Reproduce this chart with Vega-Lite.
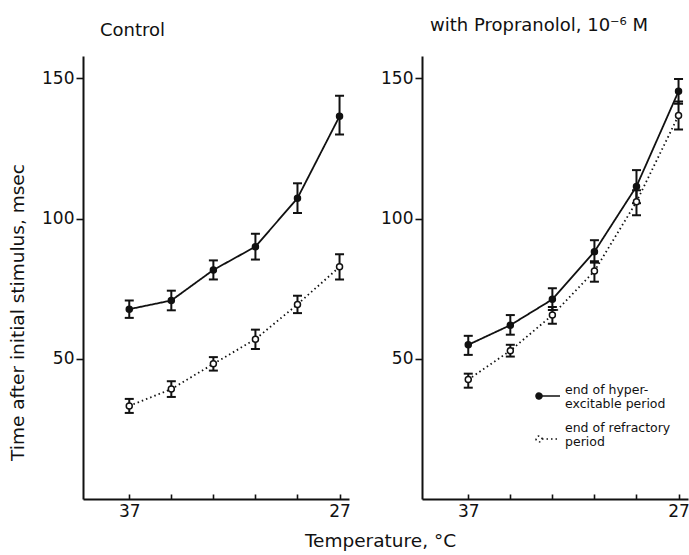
{
  "$schema": "https://vega.github.io/schema/vega-lite/v6.json",
  "background": "white",
  "padding": {"left": 8, "top": 17, "right": 0, "bottom": 5},
  "bounds": "flush",
  "spacing": 73,
  "resolve": {"scale": {"strokeDash": "independent", "fill": "independent"}, "legend": {"strokeDash": "independent", "fill": "independent"}},
  "config": {
    "view": {"stroke": null},
    "font": "DejaVu Sans",
    "axis": {
      "grid": false,
      "domainColor": "#111",
      "domainWidth": 2,
      "tickColor": "#111",
      "tickWidth": 1.6,
      "labelColor": "#111",
      "titleColor": "#111",
      "labelFont": "DejaVu Sans",
      "titleFont": "DejaVu Sans",
      "labelFontSize": 17,
      "titleFontSize": 18.5,
      "titleFontWeight": "normal"
    },
    "tick": {"opacity": 1},
    "title": {"anchor": "start", "frame": "group", "fontSize": 18, "fontWeight": "normal", "font": "DejaVu Sans", "color": "#111", "offset": 16}
  },
  "datasets": {
    "d": [
      {"panel": "Control", "series": "end of hyper-excitable period", "temp": 37, "val": 67.7, "lo": 64.6, "hi": 70.8},
      {"panel": "Control", "series": "end of hyper-excitable period", "temp": 35, "val": 70.8, "lo": 67.3, "hi": 74.3},
      {"panel": "Control", "series": "end of hyper-excitable period", "temp": 33, "val": 81.7, "lo": 78.3, "hi": 85.1},
      {"panel": "Control", "series": "end of hyper-excitable period", "temp": 31, "val": 90.0, "lo": 85.4, "hi": 94.6},
      {"panel": "Control", "series": "end of hyper-excitable period", "temp": 29, "val": 107.3, "lo": 102.0, "hi": 112.6},
      {"panel": "Control", "series": "end of hyper-excitable period", "temp": 27, "val": 136.5, "lo": 130.0, "hi": 143.8},
      {"panel": "Control", "series": "end of refractory period", "temp": 37, "val": 33.2, "lo": 30.7, "hi": 35.7},
      {"panel": "Control", "series": "end of refractory period", "temp": 35, "val": 39.2, "lo": 36.4, "hi": 42.0},
      {"panel": "Control", "series": "end of refractory period", "temp": 33, "val": 48.2, "lo": 45.8, "hi": 50.6},
      {"panel": "Control", "series": "end of refractory period", "temp": 31, "val": 57.0, "lo": 53.5, "hi": 60.4},
      {"panel": "Control", "series": "end of refractory period", "temp": 29, "val": 69.4, "lo": 66.3, "hi": 72.5},
      {"panel": "Control", "series": "end of refractory period", "temp": 27, "val": 82.8, "lo": 78.3, "hi": 87.3},
      {"panel": "Propranolol", "series": "end of hyper-excitable period", "temp": 37, "val": 55.0, "lo": 51.4, "hi": 58.2},
      {"panel": "Propranolol", "series": "end of hyper-excitable period", "temp": 35, "val": 62.0, "lo": 58.6, "hi": 65.6},
      {"panel": "Propranolol", "series": "end of hyper-excitable period", "temp": 33, "val": 71.2, "lo": 67.4, "hi": 75.2},
      {"panel": "Propranolol", "series": "end of hyper-excitable period", "temp": 31, "val": 88.2, "lo": 84.3, "hi": 92.3},
      {"panel": "Propranolol", "series": "end of hyper-excitable period", "temp": 29, "val": 111.5, "lo": 105.5, "hi": 117.3},
      {"panel": "Propranolol", "series": "end of hyper-excitable period", "temp": 27, "val": 145.4, "lo": 141.0, "hi": 149.8},
      {"panel": "Propranolol", "series": "end of refractory period", "temp": 37, "val": 42.6, "lo": 39.7, "hi": 44.7},
      {"panel": "Propranolol", "series": "end of refractory period", "temp": 35, "val": 52.9, "lo": 50.8, "hi": 55.0},
      {"panel": "Propranolol", "series": "end of refractory period", "temp": 33, "val": 65.6, "lo": 62.5, "hi": 68.5},
      {"panel": "Propranolol", "series": "end of refractory period", "temp": 31, "val": 81.3, "lo": 77.5, "hi": 84.8},
      {"panel": "Propranolol", "series": "end of refractory period", "temp": 29, "val": 106.0, "lo": 101.2, "hi": 110.1},
      {"panel": "Propranolol", "series": "end of refractory period", "temp": 27, "val": 136.8, "lo": 131.8, "hi": 141.8}
    ]
  },
  "hconcat": [
    {
      "width": 266,
      "height": 443,
      "title": {"text": "Control", "dx": 17},
      "data": {"name": "d"},
      "transform": [{"filter": "datum.panel == 'Control'"}],
      "encoding": {
        "x": {
          "field": "temp", "type": "quantitative",
          "scale": {"domain": [26.55, 39.2], "reverse": true, "nice": false, "zero": false},
          "axis": {
            "values": [37, 35, 33, 31, 29, 27],
            "labelExpr": "datum.value == 37 || datum.value == 27 ? datum.label : ''",
            "tickSize": -5,
            "labelPadding": 9,
            "title": "Temperature, °C",
            "titleX": 297,
            "titlePadding": 12
          }
        }
      },
      "layer": [
        {
          "mark": {"type": "rule", "color": "#111", "strokeWidth": 2},
          "encoding": {
            "y": {"field": "lo", "type": "quantitative", "scale": {"domain": [0, 158], "nice": false},
              "axis": {"values": [50, 100, 150], "title": "Time after initial stimulus, msec", "tickSize": 7, "labelPadding": 2, "titlePadding": 14, "titleY": 256}},
            "y2": {"field": "hi"}
          }
        },
        {
          "mark": {"type": "tick", "color": "#111", "thickness": 2, "size": 9, "orient": "horizontal", "opacity": 1},
          "encoding": {
            "y": {"field": "lo", "type": "quantitative", "scale": {"domain": [0, 158], "nice": false},
              "axis": {"values": [50, 100, 150], "title": "Time after initial stimulus, msec", "tickSize": 7, "labelPadding": 2, "titlePadding": 14, "titleY": 256}}
          }
        },
        {
          "mark": {"type": "tick", "color": "#111", "thickness": 2, "size": 9, "orient": "horizontal", "opacity": 1},
          "encoding": {
            "y": {"field": "hi", "type": "quantitative", "scale": {"domain": [0, 158], "nice": false},
              "axis": {"values": [50, 100, 150], "title": "Time after initial stimulus, msec", "tickSize": 7, "labelPadding": 2, "titlePadding": 14, "titleY": 256}}
          }
        },
        {
          "mark": {"type": "line", "color": "#111", "strokeWidth": 1.8},
          "encoding": {
            "y": {"field": "val", "type": "quantitative", "scale": {"domain": [0, 158], "nice": false},
              "axis": {"values": [50, 100, 150], "title": "Time after initial stimulus, msec", "tickSize": 7, "labelPadding": 2, "titlePadding": 14, "titleY": 256}},
            "strokeDash": {
              "field": "series", "type": "nominal",
              "scale": {"domain": ["end of hyper-excitable period", "end of refractory period"], "range": [[1, 0], [1.5, 3]]},
              "legend": null
            }
          }
        },
        {
          "mark": {"type": "point", "filled": true, "stroke": "#111", "strokeWidth": 1.5, "size": 36, "opacity": 1},
          "encoding": {
            "y": {"field": "val", "type": "quantitative", "scale": {"domain": [0, 158], "nice": false},
              "axis": {"values": [50, 100, 150], "title": "Time after initial stimulus, msec", "tickSize": 7, "labelPadding": 2, "titlePadding": 14, "titleY": 256}},
            "fill": {
              "field": "series", "type": "nominal",
              "scale": {"domain": ["end of hyper-excitable period", "end of refractory period"], "range": ["#111", "white"]},
              "legend": null
            }
          }
        }
      ]
    },
    {
      "width": 266,
      "height": 443,
      "title": {"text": "with Propranolol, 10⁻⁶ M", "dx": 8, "offset": 21},
      "data": {"name": "d"},
      "transform": [{"filter": "datum.panel == 'Propranolol'"}],
      "encoding": {
        "x": {
          "field": "temp", "type": "quantitative",
          "scale": {"domain": [26.55, 39.2], "reverse": true, "nice": false, "zero": false},
          "axis": {
            "values": [37, 35, 33, 31, 29, 27],
            "labelExpr": "datum.value == 37 || datum.value == 27 ? datum.label : ''",
            "tickSize": -5,
            "labelPadding": 9,
            "title": null
          }
        }
      },
      "layer": [
        {
          "mark": {"type": "rule", "color": "#111", "strokeWidth": 2},
          "encoding": {
            "y": {"field": "lo", "type": "quantitative", "scale": {"domain": [0, 158], "nice": false},
              "axis": {"values": [50, 100, 150], "title": null, "tickSize": 7, "labelPadding": 2}},
            "y2": {"field": "hi"}
          }
        },
        {
          "mark": {"type": "tick", "color": "#111", "thickness": 2, "size": 9, "orient": "horizontal", "opacity": 1},
          "encoding": {
            "y": {"field": "lo", "type": "quantitative", "scale": {"domain": [0, 158], "nice": false},
              "axis": {"values": [50, 100, 150], "title": null, "tickSize": 7, "labelPadding": 2}}
          }
        },
        {
          "mark": {"type": "tick", "color": "#111", "thickness": 2, "size": 9, "orient": "horizontal", "opacity": 1},
          "encoding": {
            "y": {"field": "hi", "type": "quantitative", "scale": {"domain": [0, 158], "nice": false},
              "axis": {"values": [50, 100, 150], "title": null, "tickSize": 7, "labelPadding": 2}}
          }
        },
        {
          "mark": {"type": "line", "color": "#111", "strokeWidth": 1.8},
          "encoding": {
            "y": {"field": "val", "type": "quantitative", "scale": {"domain": [0, 158], "nice": false},
              "axis": {"values": [50, 100, 150], "title": null, "tickSize": 7, "labelPadding": 2}},
            "strokeDash": {
              "field": "series", "type": "nominal",
              "scale": {"domain": ["end of hyper-excitable period", "end of refractory period"], "range": [[1, 0], [1.5, 3]]},
              "legend": {
                "title": null,
                "orient": "none",
                "legendX": 113,
                "legendY": 327,
                "symbolType": "M -1 0 A 0.25 0.25 0 1 0 -0.5 0 A 0.25 0.25 0 1 0 -1 0 Z M -0.5 0 L 1 0",
                "symbolSize": 576,
                "symbolStrokeColor": "#111",
                "symbolStrokeWidth": 1.5,
                "labelFont": "DejaVu Sans",
                "labelFontSize": 12.5,
                "labelColor": "#111",
                "labelLimit": 0,
                "labelOffset": 4,
                "rowPadding": 12,
                "labelExpr": "datum.value == 'end of hyper-excitable period' ? ['end of hyper-', ' excitable period'] : ['end of refractory', '  period']",
                "encode": {
                  "symbols": {"update": {
                    "stroke": {"value": "#111"},
                    "strokeWidth": {"value": 1.5},
                    "opacity": {"value": 1},
                    "fill": {"signal": "datum.value == 'end of refractory period' ? 'white' : '#111'"},
                    "strokeDash": {"signal": "datum.value == 'end of refractory period' ? [18.85, 1.5, 1.5, 3, 1.5, 3, 1.5, 3, 1.5, 3, 1.5, 20] : [1, 0]"}
                  }},
                  "labels": {"update": {
                    "lineHeight": {"value": 13.5},
                    "dy": {"signal": "datum.value == 'end of refractory period' ? -11 : -6"}
                  }}
                }
              }
            }
          }
        },
        {
          "mark": {"type": "point", "filled": true, "stroke": "#111", "strokeWidth": 1.5, "size": 36, "opacity": 1},
          "encoding": {
            "y": {"field": "val", "type": "quantitative", "scale": {"domain": [0, 158], "nice": false},
              "axis": {"values": [50, 100, 150], "title": null, "tickSize": 7, "labelPadding": 2}},
            "fill": {
              "field": "series", "type": "nominal",
              "scale": {"domain": ["end of hyper-excitable period", "end of refractory period"], "range": ["#111", "white"]},
              "legend": null
            }
          }
        }
      ]
    }
  ]
}
